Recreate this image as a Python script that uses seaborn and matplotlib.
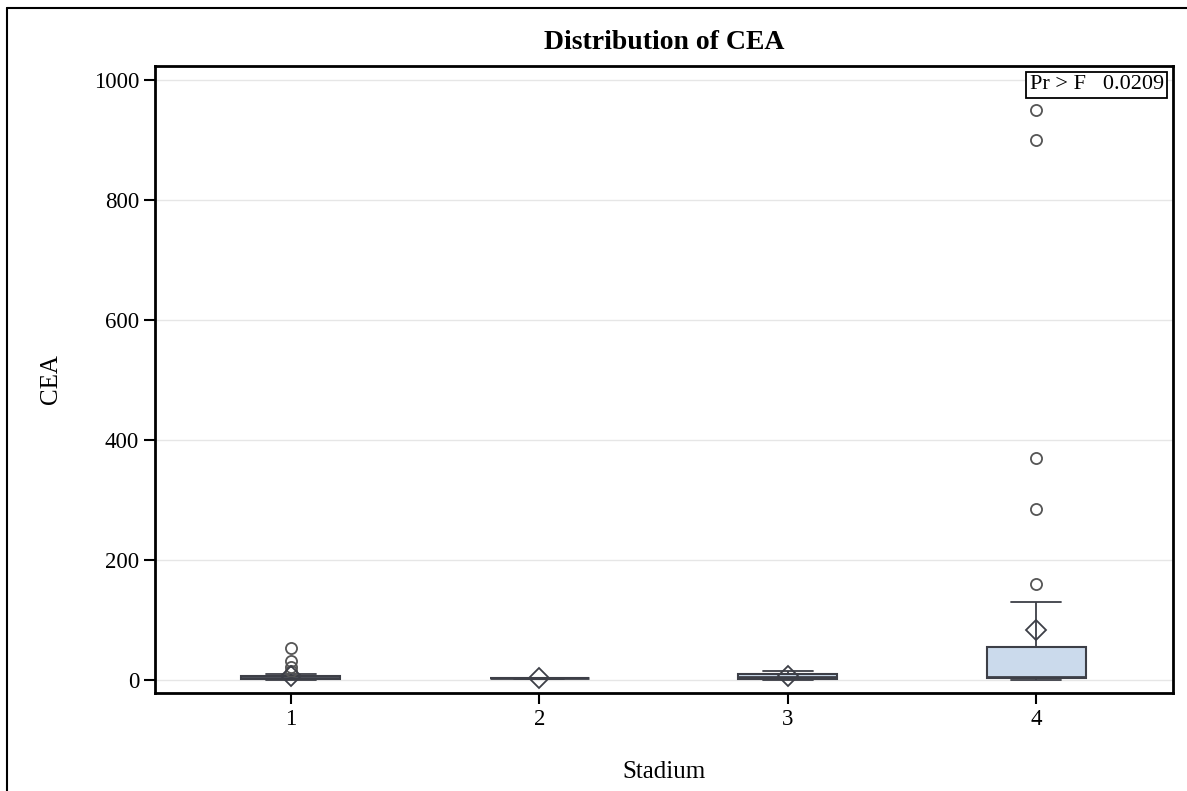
import pandas as pd
import matplotlib.pyplot as plt
import seaborn as sns
from matplotlib.lines import Line2D

# CEA values per stadium
stadium_1 = [0.3, 0.5, 0.8, 1, 1, 1.2, 1.5, 1.5, 1.8, 2, 2, 2, 2.2, 2.5, 2.5, 2.8, 3, 3, 3.2,
             3.5, 3.8, 4, 4, 4.5, 5, 5, 5.2, 5.5, 6, 6.5, 7, 7.5, 8, 8.5, 9, 10,
             15, 22, 32, 53]
stadium_2 = [2, 2.5, 3, 3, 3.5, 4]
stadium_3 = [0.5, 1, 1.5, 2, 3, 5, 6, 8, 9, 10, 12, 15]
stadium_4 = [0.5, 0.8, 1, 1.2, 1.5, 1.8, 2, 2.2, 2.5, 3, 3, 3.2, 3.5, 3.8, 4, 4.2, 4.5, 4.8, 5, 5,
             5, 8, 10, 12, 15, 18, 22, 28, 35, 55,
             57, 62, 75, 95, 130,
             160, 285, 370, 900, 950]
stadiums = ['1', '2', '3', '4']
p_value = '0.0209'

rows = []
for name, vals in zip(stadiums, [stadium_1, stadium_2, stadium_3, stadium_4]):
    for v in vals:
        rows.append((name, v))
data = pd.DataFrame(rows, columns=['Stadium', 'CEA'])

sns.set_style('white')
plt.rcParams['font.family'] = ['Liberation Serif', 'DejaVu Serif']
plt.rcParams['text.color'] = 'black'
plt.rcParams['axes.labelcolor'] = 'black'

fig = plt.figure(figsize=(11.87, 7.91), dpi=100)
ax = fig.add_axes([0.1306, 0.1239, 0.8576, 0.7927])

edge = '#3d3f47'
sns.boxplot(data=data, x='Stadium', y='CEA', order=stadiums, ax=ax, width=0.4,
            color='#cbdaec', linecolor=edge, linewidth=1.5, saturation=1,
            showmeans=True,
            meanprops=dict(marker='D', markerfacecolor='none', markeredgecolor=edge,
                           markersize=10, markeredgewidth=1.3),
            flierprops=dict(marker='o', markerfacecolor='none', markeredgecolor='#555555',
                            markersize=8, markeredgewidth=1.3),
            medianprops=dict(color=edge, linewidth=2),
            capprops=dict(color=edge, linewidth=1.3),
            whiskerprops=dict(color=edge, linewidth=1.3))

ax.set_xlim(-0.546, 3.55)
ax.set_ylim(-21.7, 1023)
ax.set_yticks([0, 200, 400, 600, 800, 1000])
ax.yaxis.grid(True, color='#e6e6e6', linewidth=1)
ax.set_axisbelow(True)
for s in ax.spines.values():
    s.set_color('black')
    s.set_linewidth(2)
ax.tick_params(axis='both', which='both', direction='out', length=8, width=1.5,
               labelsize=16.5, colors='black', left=True, bottom=True)
ax.set_xlabel('Stadium', fontsize=18, labelpad=22, color='black')
ax.set_ylabel('CEA', fontsize=18, labelpad=23, color='black')
ax.set_title('Distribution of CEA', fontsize=20, fontweight='bold', pad=12, color='black')

ax.text(0.991, 0.985, 'Pr > F   ' + p_value, transform=ax.transAxes, ha='right', va='top',
        fontsize=16, color='black',
        bbox=dict(boxstyle='square,pad=0.15', fc='white', ec='black', lw=1.3))

# outer frame (left and top edges)
fig.add_artist(Line2D([7 / 1187, 7 / 1187], [0, 1 - 8 / 791], color='black', lw=1.5,
                      transform=fig.transFigure))
fig.add_artist(Line2D([7 / 1187, 1], [1 - 8 / 791, 1 - 8 / 791], color='black', lw=1.5,
                      transform=fig.transFigure))

fig.savefig('out.png', dpi=100)
